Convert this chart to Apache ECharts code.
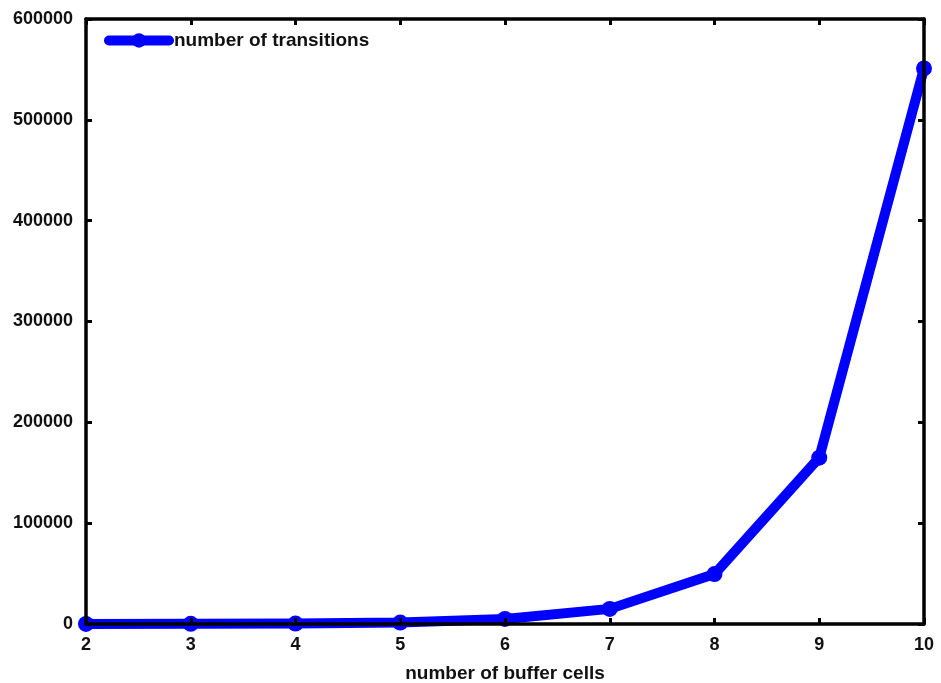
<!DOCTYPE html>
<html><head><meta charset="utf-8">
<script src="https://cdn.jsdelivr.net/npm/echarts@6/dist/echarts.min.js"></script>
<style>html,body{margin:0;padding:0;background:#fff}#c{width:941px;height:683px}</style>
</head><body><div id="c"></div>
<script>
var bufferCells = [2, 3, 4, 5, 6, 7, 8, 9, 10];
var transitions = [40, 130, 420, 1400, 5000, 15000, 49500, 165000, 551000];
var seriesName = 'number of transitions';
var xAxisName = 'number of buffer cells';

var font = 'Liberation Sans, Arial, sans-serif';
var chart = echarts.init(document.getElementById('c'));
var data = bufferCells.map(function (x, i) { return [x, transitions[i]]; });
var axisCommon = {
  axisLine: { show: true, onZero: false, lineStyle: { color: '#000', width: 3.5 } },
  axisTick: { show: true, inside: true, length: 6, lineStyle: { color: '#000', width: 3 } },
  splitLine: { show: false },
  z: 10
};
chart.setOption({
  animation: false,
  backgroundColor: '#fff',
  grid: { left: 86, right: 17, top: 19, bottom: 59, outerBoundsMode: 'none', containLabel: false },
  legend: {
    show: true, left: 99, top: 26, itemWidth: 60, itemHeight: 18, itemGap: 8,
    lineStyle: { width: 10, cap: 'round' },
    textStyle: { fontFamily: font, fontWeight: 'bold', fontSize: 19, color: '#111' },
    data: [seriesName]
  },
  xAxis: [
    Object.assign({
      type: 'value', min: 2, max: 10, interval: 1, position: 'bottom',
      name: xAxisName, nameLocation: 'middle', nameGap: 40,
      nameTextStyle: { fontFamily: font, fontWeight: 'bold', fontSize: 19, color: '#111' },
      axisLabel: { fontFamily: font, fontWeight: 'bold', fontSize: 18, color: '#111', margin: 12 }
    }, axisCommon),
    Object.assign({
      type: 'value', min: 2, max: 10, interval: 1, position: 'top',
      axisLabel: { show: false }
    }, axisCommon)
  ],
  yAxis: [
    Object.assign({
      type: 'value', min: 0, max: 600000, interval: 100000, position: 'left',
      axisLabel: { fontFamily: font, fontWeight: 'bold', fontSize: 18, color: '#111', margin: 13,
        formatter: function (v) { return String(v); } }
    }, axisCommon),
    Object.assign({
      type: 'value', min: 0, max: 600000, interval: 100000, position: 'right',
      axisLabel: { show: false }
    }, axisCommon)
  ],
  series: [{
    name: seriesName, type: 'line', data: data,
    xAxisIndex: 0, yAxisIndex: 0,
    clip: false,
    symbol: 'circle', symbolSize: 16,
    lineStyle: { color: '#0000ff', width: 10, cap: 'round', join: 'round' },
    itemStyle: { color: '#0000ff' },
    z: 2
  }]
});
</script></body></html>
